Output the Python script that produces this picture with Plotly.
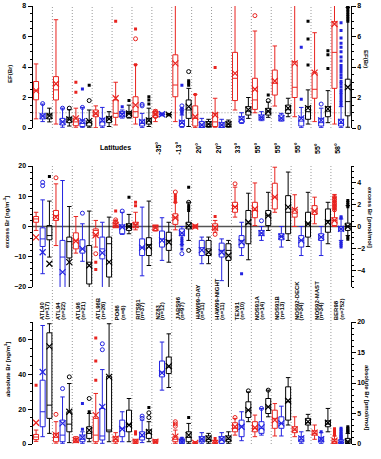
import plotly.graph_objects as go

stations = ["ATL90", "ATL94", "ATL96", "ATL96B", "PO86", "RITS91", "NZ83", "JABS96",
            "HAW99-DAY", "HAW99-NIGHT", "TEX91", "NOS91A", "NOS91B", "NOS92-DECK", "NOS92-MAST", "BER98"]
counts = ["(n=17)", "(n=22)", "(n=21)", "(n=26)", "(n=6)", "(n=37)", "(n=12)", "(n=97)",
          "(n=11)", "(n=11)", "(n=10)", "(n=14)", "(n=13)", "(n=34)", "(n=34)", "(n=752)"]
latitudes = {6: "-35°", 7: "-13°", 8: "20°", 9: "20°", 10: "33°", 11: "55°",
             12: "55°", 13: "55°", 14: "55°", 15: "58°"}

# box stats per station: [lower whisker, q1, median, q3, upper whisker, mean]
ef_red = [[0.6, 1.85, 2.45, 3.05, 4.2, 2.45], [0.26, 1.84, 2.5, 3.37, 7.1, 2.9],
          [0.05, 0.15, 0.4, 0.65, 1.3, 0.63], [0.02, 0.74, 0.92, 1.18, 1.45, 0.95],
          [0.2, 0.7, 0.96, 1.84, 3.0, 1.95], [0.26, 0.7, 1.07, 2.05, 4.15, 1.5],
          [0.42, 0.7, 0.85, 1.07, 1.18, 0.9], [0.42, 2.05, 2.82, 4.8, 8.5, 4.24],
          [0.02, 0.13, 0.63, 1.45, 2.2, 0.74], [0.05, 0.1, 0.4, 0.96, 1.95, 0.85],
          [1.18, 1.8, 3.26, 4.96, 8.5, 3.58], [1.0, 1.22, 1.84, 3.26, 6.36, 2.54],
          [1.44, 2.16, 2.93, 3.8, 5.38, 3.08], [0.74, 2.0, 2.67, 4.35, 8.5, 4.24],
          [0.42, 1.95, 2.54, 3.63, 6.25, 3.63], [0.26, 2.6, 4.96, 6.97, 8.5, 6.82]]
ef_blue = [[0.42, 0.6, 0.78, 0.92, 1.57, 0.78], [0.05, 0.2, 0.4, 0.63, 1.3, 0.4],
           [0.02, 0.1, 0.3, 0.52, 1.35, 0.45], [0.02, 0.13, 0.4, 0.63, 1.35, 0.5],
           [0.65, 0.74, 0.95, 1.07, 1.18, 0.9], [0.02, 0.13, 0.3, 0.52, 0.96, 0.4],
           [0.8, 0.85, 0.9, 0.95, 0.98, 0.9], [0.02, 0.1, 0.3, 0.48, 0.85, 0.35],
           [0.02, 0.05, 0.2, 0.42, 0.63, 0.2], [0.02, 0.05, 0.2, 0.35, 0.57, 0.2],
           [0.3, 0.35, 0.55, 0.74, 1.0, 0.6], [0.48, 0.57, 0.7, 0.85, 1.07, 0.7],
           [0.45, 0.52, 0.65, 0.85, 0.96, 0.65], [0.02, 0.13, 0.45, 0.7, 1.35, 0.63],
           [0.02, 0.13, 0.35, 0.63, 1.3, 0.5], [0.02, 0.13, 0.3, 0.57, 1.4, 0.4]]
ef_black = [[0.4, 0.6, 0.85, 0.92, 1.3, 0.8], [0.13, 0.35, 0.57, 0.7, 1.2, 0.57],
            [0.05, 0.13, 0.35, 0.48, 1.18, 0.45], [0.1, 0.35, 0.6, 0.74, 1.07, 0.6],
            [0.65, 0.7, 0.95, 1.07, 1.5, 0.95], [0.1, 0.26, 0.45, 0.63, 1.3, 0.5],
            [0.8, 0.85, 0.88, 0.92, 0.95, 0.88], [0.1, 0.63, 1.18, 1.84, 2.6, 1.4],
            [0.05, 0.1, 0.25, 0.42, 0.57, 0.25], [0.05, 0.1, 0.25, 0.4, 0.52, 0.25],
            [0.63, 0.85, 1.1, 1.4, 2.0, 1.2], [0.7, 0.85, 1.1, 1.29, 1.7, 1.1],
            [0.74, 0.96, 1.2, 1.5, 1.95, 1.3], [0.26, 0.57, 1.07, 1.4, 2.5, 1.3],
            [0.35, 0.74, 1.1, 1.4, 2.45, 1.25], [0.05, 0.8, 1.73, 3.2, 7.9, 2.67]]

ex_red = [[-1.3, 1.4, 2.5, 3.3, 4.7, -3.6], [-6.3, 2.0, 3.6, 5.3, 14.1, 3.1],
          [-8.8, -7.4, -4.6, -2.1, 3.3, -4.8], [-6.8, -3.0, -1.3, -0.8, 2.0, -2.8],
          [-0.4, -0.2, 0.3, 1.1, 2.0, 0.5], [-1.1, -0.4, 0.7, 1.4, 4.7, 0.5],
          [-1.5, -1.3, -0.4, 0.3, 0.5, -0.4], [-1.1, 0.7, 2.9, 4.2, 8.0, 2.9],
          [-0.5, -0.4, 0.0, 0.4, 0.5, 0.0], [-1.9, -1.1, 0.0, 0.9, 2.0, -0.4],
          [3.1, 4.7, 6.6, 8.0, 13.0, 6.4], [0.3, 2.9, 5.3, 8.0, 14.4, 5.8],
          [4.7, 5.8, 9.7, 14.3, 19.6, 9.7], [0.0, 3.1, 4.4, 5.8, 10.5, 5.5],
          [0.9, 4.0, 5.1, 6.9, 9.7, 5.1], [0.0, 0.3, 2.0, 2.9, 10.6, 2.0]]
ex_blue = [[-15.6, -6.6, -4.1, -0.44, 8.8, -8.5], [-25.0, -22.0, -10.1, -4.6, 15.2, -15.1],
           [-11.5, -8.8, -7.4, -4.4, 0.9, -7.4], [-25.0, -10.7, -7.4, -3.5, 1.4, -8.7],
           [-2.6, -2.4, -0.2, 0.5, 4.7, -0.2], [-16.3, -9.6, -7.0, -4.1, 6.4, -7.0],
           [-11.2, -6.8, -4.1, -1.5, 2.9, -4.6], [-6.0, -3.0, -2.2, -0.8, 0.0, -2.2],
           [-12.3, -9.6, -7.0, -4.6, -3.5, -7.8], [-17.9, -10.1, -7.9, -5.5, -4.1, -8.5],
           [-9.6, -7.0, -4.6, -3.0, 1.4, -5.2], [-4.6, -3.0, -2.2, -1.3, 0.0, -2.2],
           [-6.8, -4.4, -3.3, -2.4, 0.0, -3.3], [-9.6, -6.8, -4.6, -3.0, 0.0, -4.6],
           [-9.6, -4.6, -3.5, -2.4, 0.0, -3.5], [-4.6, -1.5, -0.8, 0.0, 2.5, -0.8]]
ex_black = [[-10.1, -4.4, -3.0, 0.3, 8.4, -12.3], [-25.0, -10.4, -5.0, -3.5, 6.6, -11.8],
            [-25.0, -19.0, -11.8, -6.3, 5.1, -12.9], [-25.0, -16.7, -5.7, -3.5, 3.1, -11.8],
            [-2.4, -1.3, 0.0, 0.9, 4.0, 0.0], [-12.9, -9.6, -6.0, -3.7, 8.4, -6.6],
            [-11.8, -7.9, -4.6, -1.9, 1.4, -5.2], [-4.6, -0.8, 0.0, 1.4, 8.0, 0.3],
            [-12.3, -9.6, -7.4, -4.6, -3.5, -8.5], [-22.0, -11.2, -7.9, -5.7, -4.6, -9.6],
            [-11.0, -5.7, 0.9, 5.3, 11.0, 1.4], [-1.3, 0.3, 3.6, 5.3, 11.3, 3.6],
            [-4.6, -2.4, 4.7, 10.2, 18.0, 6.4], [-6.6, -3.5, 0.9, 4.7, 11.3, 0.9],
            [-5.7, -1.9, 2.0, 5.8, 8.0, 1.4], [-3.0, -1.3, 0.0, 1.1, 6.9, 0.0]]

ab_red = [[1.5, 2.5, 4.0, 5.5, 8.0, 12.2], [0.5, 1.3, 3.8, 6.1, 12.8, 5.1],
          [0.8, 1.3, 2.3, 3.2, 4.2, 2.3], [0.4, 1.3, 5.1, 14.7, 29.0, 16.6],
          [0.4, 1.3, 2.7, 4.2, 6.5, 3.0], [0.2, 0.4, 1.3, 2.3, 2.7, 1.3],
          [0.5, 0.8, 1.3, 2.3, 2.5, 1.3], [0.4, 1.3, 2.7, 4.2, 8.0, 4.2],
          [0.1, 0.2, 0.5, 1.1, 1.3, 0.6], [0.1, 0.2, 0.5, 1.1, 2.0, 0.6],
          [5.1, 7.0, 9.0, 12.2, 14.7, 9.9], [4.2, 7.0, 9.0, 12.8, 16.6, 9.3],
          [4.6, 9.0, 14.7, 19.4, 23.2, 13.7], [4.2, 6.5, 8.0, 9.9, 15.6, 8.4],
          [2.7, 5.1, 6.1, 7.6, 10.9, 6.5], [0.1, 0.4, 1.3, 2.7, 4.6, 1.9]]
ab_blue = [[4.2, 9.9, 18.5, 36.6, 68.0, 41.3], [0.4, 1.3, 5.1, 13.7, 27.0, 11.8],
           [0.4, 1.3, 2.7, 5.1, 7.0, 3.8], [0.4, 2.3, 4.6, 20.4, 42.7, 21.3],
           [1.3, 4.2, 9.0, 13.7, 18.5, 8.6], [0.8, 2.3, 4.2, 7.0, 13.7, 5.1],
           [30.9, 38.5, 41.3, 47.6, 58.5, 40.8], [0.1, 0.4, 1.3, 2.3, 3.5, 1.3],
           [0.4, 1.3, 2.7, 4.2, 6.5, 2.7], [0.2, 0.4, 2.3, 4.2, 6.5, 2.7],
           [1.9, 4.2, 10.3, 13.7, 18.5, 9.9], [5.1, 6.1, 9.0, 12.8, 20.4, 9.5],
           [4.6, 9.0, 11.8, 15.6, 21.7, 11.8], [0.4, 1.3, 2.3, 4.2, 7.0, 3.2],
           [0.4, 1.3, 2.3, 3.8, 6.5, 2.7], [0.05, 0.2, 0.6, 1.3, 2.5, 0.8]]
ab_black = [[6.1, 14.7, 22.3, 63.8, 69.0, 56.0], [0.8, 7.0, 11.4, 18.5, 34.7, 18.5],
            [1.3, 3.2, 6.1, 9.9, 17.5, 8.0], [1.3, 7.0, 8.0, 38.9, 69.0, 38.5],
            [1.3, 7.0, 11.2, 19.4, 26.1, 10.9], [1.3, 3.2, 6.1, 8.0, 12.8, 7.0],
            [32.4, 40.4, 44.2, 49.9, 63.2, 44.6], [0.4, 1.3, 3.8, 7.0, 11.8, 5.1],
            [0.4, 1.3, 2.7, 4.6, 6.1, 3.2], [0.4, 1.3, 2.7, 4.6, 7.0, 3.2],
            [12.8, 15.2, 19.4, 24.2, 29.9, 19.4], [15.6, 17.5, 21.3, 26.1, 30.9, 21.3],
            [10.9, 13.7, 24.2, 32.8, 38.1, 24.8], [7.6, 10.9, 12.2, 14.7, 17.0, 12.8],
            [7.0, 9.9, 11.4, 13.3, 20.4, 12.2], [0.2, 0.4, 1.3, 3.2, 6.1, 1.3]]

# outliers: station index -> values ; circles (open) and squares (filled)
ef_red_circ = {5: [5.85], 6: [0.75, 1.0, 1.1], 11: [7.37]}
ef_red_sq = {2: [2.35, 3.0], 4: [7.0], 5: [4.15, 6.5], 8: [2.2], 9: [3.97]}
ef_blue_circ = {0: [1.6], 1: [1.3], 2: [1.35], 5: [1.45, 1.55], 7: [1.2, 1.45], 14: [1.57]}
ef_blue_sq = {2: [2.55], 4: [1.4], 7: [0.95, 1.05, 1.15, 1.3, 2.8], 13: [1.88, 5.3],
              15: [1.5, 1.65, 1.8, 2.0, 2.2, 2.35, 2.5, 2.7, 2.9, 3.05, 3.3, 3.5, 3.7, 3.9,
                   4.1, 4.4, 4.65, 5.0, 5.3, 5.55, 5.9, 6.4, 6.9]}
ef_black_circ = {1: [1.3], 2: [1.8], 7: [3.7], 11: [1.8]}
ef_black_sq = {2: [2.8], 4: [1.8], 5: [1.57, 1.84, 2.05], 7: [2.8, 2.95, 3.1], 11: [2.16],
               13: [4.13, 5.84, 7.0], 14: [3.9, 4.8, 5.07],
               15: [7.0, 7.15, 7.3, 7.45, 7.6, 7.75, 7.9, 8.0]}

ex_red_circ = {1: [16.1], 3: [-9.0], 4: [1.6, 2.2], 7: [11.4], 9: [-2.6], 10: [14.1],
               15: [5.5, 6.2, 6.8, 7.4, 8.0, 8.6, 9.2, 9.8]}
ex_red_sq = {3: [-11.8, -14.2], 4: [5.1], 5: [6.9, 8.0], 7: [8.0, 8.8, 9.6, 10.4], 9: [3.3],
             15: [5.8, 7.0, 8.3, 9.5]}
ex_blue_circ = {0: [13.5, 14.6], 2: [4.4], 4: [5.1], 7: [-9.0], 11: [1.9]}
ex_blue_sq = {7: [-3.8, -4.6, -5.4, -6.2, -7.4], 10: [-15.6],
              15: [2.8, 3.2, -5.0, -5.6, -6.2, -6.8]}
ex_black_circ = {7: [8.0, -7.9]}
ex_black_sq = {0: [16.5], 4: [9.7], 7: [5.3, 6.0, 6.9, 13.0],
               15: [6.5, 7.2, 7.9, 8.6, -3.5, -4.2]}

ab_red_circ = {1: [17.0], 7: [10.2, 11.5, 12.8], 10: [15.2]}
ab_red_sq = {0: [33.7], 3: [36.6, 47.6, 60.8], 5: [5.7, 7.0], 9: [3.2],
             15: [5.2, 5.9, 6.6, 7.3, 8.0, 8.8]}
ab_blue_circ = {1: [31.8], 3: [54.1, 57.5], 5: [14.7, 16.0], 11: [20.4]}
ab_blue_sq = {2: [8.4, 23.2], 7: [2.8, 3.3], 14: [7.0],
              15: [3.0, 3.6, 4.2, 4.8, 5.5, 6.3, 7.2, 8.2, 9.0]}
ab_black_circ = {1: [38.5], 2: [26.1], 5: [15.2, 17.9], 10: [30.5], 11: [30.9]}
ab_black_sq = {2: [18.5], 5: [21.0], 7: [15.2], 15: [6.8, 7.5, 8.2, 9.0, 9.9]}

RED, BLUE, BLACK = "#e8231f", "#2323e0", "#000000"
OFFS = {RED: 0.18, BLUE: 0.51, BLACK: 0.85}
FONT = "Liberation Sans"
H = 459.0
XD = [32.5 / 381, 350.8 / 381]

panels = [
    ("x", "y", [ef_red, ef_blue, ef_black],
     [(ef_red_circ, ef_red_sq), (ef_blue_circ, ef_blue_sq), (ef_black_circ, ef_black_sq)]),
    ("x2", "y3", [ex_red, ex_blue, ex_black],
     [(ex_red_circ, ex_red_sq), (ex_blue_circ, ex_blue_sq), (ex_black_circ, ex_black_sq)]),
    ("x3", "y5", [ab_red, ab_blue, ab_black],
     [(ab_red_circ, ab_red_sq), (ab_blue_circ, ab_blue_sq), (ab_black_circ, ab_black_sq)]),
]

fig = go.Figure()
for xa, ya, stats_list, outs in panels:
    for color, stats, (circ, sq) in zip([RED, BLUE, BLACK], stats_list, outs):
        off = OFFS[color]
        xs = [i + off for i in range(len(stats))]
        fig.add_trace(go.Box(
            x=xs, lowerfence=[s[0] for s in stats], q1=[s[1] for s in stats],
            median=[s[2] for s in stats], q3=[s[3] for s in stats],
            upperfence=[s[4] for s in stats], orientation="v",
            width=0.25, whiskerwidth=0.9, boxpoints=False,
            line=dict(color=color, width=1), fillcolor="rgba(0,0,0,0)",
            xaxis=xa, yaxis=ya, showlegend=False, hoverinfo="skip"))
        fig.add_trace(go.Scatter(
            x=xs, y=[s[5] for s in stats], mode="markers", xaxis=xa, yaxis=ya,
            marker=dict(symbol="x-thin-open", size=6, color=color, line=dict(color=color, width=1.2)),
            showlegend=False, hoverinfo="skip"))
        cx, cy = [], []
        for k, vals in circ.items():
            for v in vals:
                cx.append(k + off); cy.append(v)
        fig.add_trace(go.Scatter(
            x=cx, y=cy, mode="markers", xaxis=xa, yaxis=ya,
            marker=dict(symbol="circle-open", size=4, color=color, line=dict(color=color, width=1)),
            showlegend=False, hoverinfo="skip"))
        sx, sy = [], []
        for k, vals in sq.items():
            for v in vals:
                sx.append(k + off); sy.append(v)
        fig.add_trace(go.Scatter(
            x=sx, y=sy, mode="markers", xaxis=xa, yaxis=ya,
            marker=dict(symbol="square", size=3, color=color),
            showlegend=False, hoverinfo="skip"))

# invisible traces so the right-hand axes are drawn
for xa, ya in [("x", "y2"), ("x2", "y4"), ("x3", "y6")]:
    fig.add_trace(go.Scatter(x=[0], y=[0], mode="markers", marker=dict(opacity=0),
                             xaxis=xa, yaxis=ya, showlegend=False, hoverinfo="skip"))

def pd(px):
    return 1 - px / H

tickfont = dict(family=FONT, size=7, color="black", weight="bold")

def yax(rng, dom, dtick, minor, side="left", anchor="x", overlaying=None):
    d = dict(range=rng, side=side, anchor=anchor, showline=True, linecolor="black", linewidth=1,
             ticks="outside", ticklen=4, tickwidth=1, tickcolor="black", dtick=dtick, tick0=0,
             tickfont=tickfont, showgrid=False, zeroline=False, automargin=False,
             minor=dict(dtick=minor, ticks="outside", ticklen=2, tickcolor="black", showgrid=False))
    if overlaying:
        d["overlaying"] = overlaying
    else:
        d["domain"] = dom
    return d

xcommon = dict(range=[0, 16], domain=XD, showticklabels=False, showline=False, ticks="",
               showgrid=False, zeroline=False, automargin=False)

dom1 = [pd(128), pd(6)]
dom2 = [pd(287), pd(166)]
dom3 = [pd(444), pd(322)]

fig.update_layout(
    width=381, height=459, margin=dict(l=0, r=0, t=0, b=0),
    paper_bgcolor="white", plot_bgcolor="white", boxmode="overlay",
    font=dict(family=FONT, size=7, color="black"),
    xaxis=dict(xcommon, anchor="y"),
    xaxis2=dict(xcommon, anchor="y3"),
    xaxis3=dict(xcommon, anchor="y5"),
    yaxis=yax([0, 8], dom1, 2, 0.5),
    yaxis2=yax([0, 8], None, 2, 0.5, side="right", anchor="x", overlaying="y"),
    yaxis3=yax([-20, 20], dom2, 10, 2, anchor="x2"),
    yaxis4=yax([-5.5, 5.5], None, 2, 0.5, side="right", anchor="x2", overlaying="y3"),
    yaxis5=yax([0, 70], dom3, 20, 5, anchor="x3"),
    yaxis6=yax([0, 20], None, 5, 1, side="right", anchor="x3", overlaying="y5"),
)

DOT = dict(color="#9a9a9a", width=1, dash="1px,2px")
shapes = []
for k in range(1, 16):
    for xr, y0, y1 in [("x", dom1[0], dom1[1]), ("x2", dom2[0], dom2[1]), ("x3", dom3[0], pd(288))]:
        shapes.append(dict(type="line", xref=xr, yref="paper", x0=k, x1=k, y0=y0, y1=y1,
                           line=DOT, layer="below"))
shapes.append(dict(type="line", xref="paper", yref="y", x0=XD[0], x1=XD[1], y0=1, y1=1,
                   line=DOT, layer="below"))
shapes.append(dict(type="line", xref="paper", yref="y3", x0=XD[0], x1=XD[1], y0=0, y1=0,
                   line=dict(color="#555555", width=1.5), layer="below"))
fig.update_layout(shapes=shapes)

ann = []
bold7 = dict(family=FONT, size=7, color="black", weight="bold")
bold6 = dict(family=FONT, size=6, color="black", weight="bold")
ann.append(dict(text="Latitudes", xref="paper", yref="paper", x=115 / 381, y=pd(147),
                showarrow=False, font=bold7, xanchor="center", yanchor="middle"))
for k, lat in latitudes.items():
    ann.append(dict(text=lat, xref="x2", yref="paper", x=k + 0.3, y=pd(148), textangle=-90,
                    showarrow=False, font=bold7, xanchor="center", yanchor="middle"))
for i, (st, n) in enumerate(zip(stations, counts)):
    o1, o2 = (0.46, 0.71) if i == 0 else (0.27, 0.52)
    ann.append(dict(text=st, xref="x3", yref="paper", x=i + o1, y=pd(322), textangle=-90,
                    showarrow=False, font=bold6, xanchor="center", yanchor="bottom"))
    ann.append(dict(text=n, xref="x3", yref="paper", x=i + o2, y=pd(322), textangle=-90,
                    showarrow=False, font=bold6, xanchor="center", yanchor="bottom"))
titles = [
    ("EF(Br)", 10, 74, -90), ("EF(Br)", 366, 59, 90),
    ("excess Br [ng/m<sup>-3</sup>]", 6, 222, -90), ("excess Br [pmol/mol]", 370, 217, 90),
    ("absolute Br [ng/m<sup>3</sup>]", 7, 370, -90), ("absolute Br [pmol/mol]", 367, 397, 90),
]
for t, x, y, ang in titles:
    ann.append(dict(text=t, xref="paper", yref="paper", x=x / 381, y=pd(y), textangle=ang,
                    showarrow=False, font=bold6, xanchor="center", yanchor="middle"))
fig.update_layout(annotations=ann)

fig.write_html("out.html")
